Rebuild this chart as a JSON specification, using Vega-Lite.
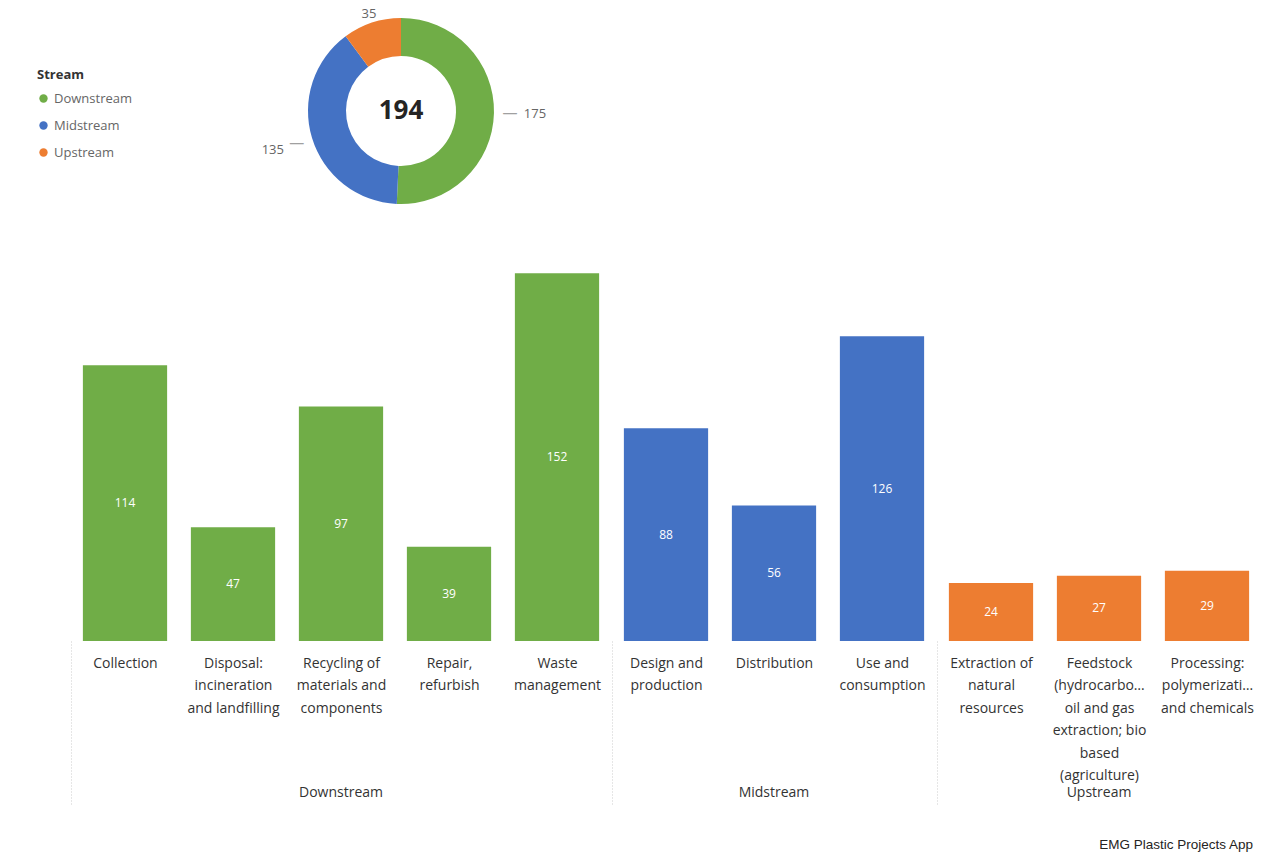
{
  "$schema": "https://vega.github.io/schema/vega-lite/v6.json",
  "background": "white",
  "padding": {"left": 37, "top": 8, "right": 5, "bottom": 2},
  "config": {
    "view": {"stroke": null},
    "font": "Open Sans",
    "legend": {"orient": "none"}
  },
  "title": {
    "text": "EMG Plastic Projects App",
    "orient": "bottom",
    "anchor": "end",
    "font": "Liberation Sans",
    "fontSize": 13.5,
    "fontWeight": "normal",
    "color": "#252423",
    "offset": 31,
    "dx": -8
  },
  "vconcat": [
    {
      "width": 660,
      "height": 200,
      "data": {"values": [
        {"Stream": "Downstream", "Count": 175},
        {"Stream": "Midstream", "Count": 135},
        {"Stream": "Upstream", "Count": 35}
      ]},
      "layer": [
        {
          "mark": {"type": "arc", "innerRadius": 55, "outerRadius": 93},
          "encoding": {
            "theta": {"field": "Count", "type": "quantitative", "stack": true},
            "order": {"field": "Stream", "sort": "ascending"},
            "color": {
              "field": "Stream",
              "type": "nominal",
              "scale": {"domain": ["Downstream", "Midstream", "Upstream"], "range": ["#70AD47", "#4472C4", "#ED7D31"]},
              "legend": {
                "orient": "none",
                "legendX": -34,
                "legendY": 58,
                "title": "Stream",
                "symbolType": "circle",
                "symbolSize": 70,
                "titleFontSize": 13,
                "titleFontWeight": "bold",
                "titleColor": "#333333",
                "titlePadding": 10,
                "labelFontSize": 13,
                "labelColor": "#666666",
                "rowPadding": 13
              }
            }
          }
        },
        {
          "mark": {"type": "text", "radius": {"expr": "datum.Stream === 'Upstream' ? 102 : 134"}, "fontSize": 13, "color": "#666666"},
          "encoding": {
            "theta": {"field": "Count", "type": "quantitative", "stack": true},
            "order": {"field": "Stream", "sort": "ascending"},
            "detail": {"field": "Stream", "type": "nominal"},
            "text": {"field": "Count", "type": "quantitative"}
          }
        },
        {
          "mark": {"type": "text", "text": "—", "radius": {"expr": "datum.Stream === 'Upstream' ? 70 : 109"}, "fontSize": 15, "color": "#a0a0a0", "opacity": {"expr": "datum.Stream === 'Upstream' ? 0 : 1"}},
          "encoding": {
            "theta": {"field": "Count", "type": "quantitative", "stack": true},
            "order": {"field": "Stream", "sort": "ascending"},
            "detail": {"field": "Stream", "type": "nominal"}
          }
        },
        {
          "data": {"values": [{"Total": 194}]},
          "mark": {"type": "text", "fontSize": 26, "fontWeight": "bold", "color": "#252423"},
          "encoding": {"text": {"field": "Total", "type": "quantitative"}}
        }
      ]
    },
    {
      "data": {"values": [
        {"Stream": "Downstream", "Category": "Collection", "Count": 114},
        {"Stream": "Downstream", "Category": "Disposal:\nincineration\nand landfilling", "Count": 47},
        {"Stream": "Downstream", "Category": "Recycling of\nmaterials and\ncomponents", "Count": 97},
        {"Stream": "Downstream", "Category": "Repair,\nrefurbish", "Count": 39},
        {"Stream": "Downstream", "Category": "Waste\nmanagement", "Count": 152},
        {"Stream": "Midstream", "Category": "Design and\nproduction", "Count": 88},
        {"Stream": "Midstream", "Category": "Distribution", "Count": 56},
        {"Stream": "Midstream", "Category": "Use and\nconsumption", "Count": 126},
        {"Stream": "Upstream", "Category": "Extraction of\nnatural\nresources", "Count": 24},
        {"Stream": "Upstream", "Category": "Feedstock\n(hydrocarbo…\noil and gas\nextraction; bio\nbased\n(agriculture)", "Count": 27},
        {"Stream": "Upstream", "Category": "Processing:\npolymerizati…\nand chemicals", "Count": 29}
      ]},
      "facet": {
        "column": {
          "field": "Stream",
          "type": "nominal",
          "header": {
            "title": null,
            "labelOrient": "bottom",
            "labelFontSize": 14,
            "labelColor": "#333333",
            "labelPadding": -21
          }
        }
      },
      "spacing": 0,
      "resolve": {"scale": {"x": "independent"}},
      "spec": {
        "width": {"step": 108},
        "height": 387,
        "encoding": {
          "x": {
            "field": "Category",
            "type": "nominal",
            "title": null,
            "scale": {"paddingInner": 0, "paddingOuter": 0},
            "axis": {
              "labelAngle": 0,
              "labelExpr": "split(datum.label, '\\n')",
              "labelFontSize": 14,
              "labelColor": "#333333",
              "labelLineHeight": 22.5,
              "labelBaseline": "top",
              "labelPadding": -150,
              "labelLimit": 120,
              "domain": false,
              "tickBand": "extent",
              "tickExtra": true,
              "tickSize": 165,
              "tickDash": [1, 2],
              "tickColor": "#cccccc",
              "tickOpacity": {"condition": {"test": "datum.extra", "value": 1}, "value": 0}
            }
          }
        },
        "layer": [
          {
            "mark": {"type": "bar", "width": {"band": 0.78}},
            "encoding": {
              "y": {"field": "Count", "type": "quantitative", "scale": {"domain": [0, 160]}, "axis": null},
              "color": {"field": "Stream", "type": "nominal"}
            }
          },
          {
            "mark": {"type": "text", "color": "white", "fontSize": 12, "baseline": "middle"},
            "encoding": {
              "y": {"field": "Count", "type": "quantitative", "scale": {"domain": [0, 320]}, "axis": null},
              "text": {"field": "Count", "type": "quantitative"}
            }
          }
        ],
        "resolve": {"scale": {"y": "independent"}}
      }
    }
  ],
  "spacing": 43
}
